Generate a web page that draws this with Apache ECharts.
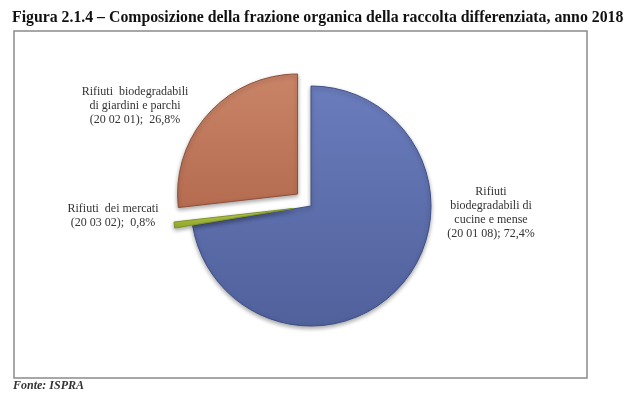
<!DOCTYPE html>
<html>
<head>
<meta charset="utf-8">
<script src="https://cdn.jsdelivr.net/npm/echarts@6/dist/echarts.min.js"></script>
<style>
  html, body { margin: 0; padding: 0; background: #fff; }
  #chart { width: 630px; height: 401px; }
</style>
</head>
<body>
<div id="chart"></div>
<script>
// dati
var categorie = [
  'Rifiuti biodegradabili di cucine e mense (20 01 08)',
  'Rifiuti dei mercati (20 03 02)',
  'Rifiuti biodegradabili di giardini e parchi (20 02 01)'
];
var valori = [72.4, 0.8, 26.8];
var etichette = [
  'Rifiuti\nbiodegradabili di\ncucine e mense\n(20 01 08); 72,4%',
  'Rifiuti  dei mercati\n(20 03 02);  0,8%',
  'Rifiuti  biodegradabili\ndi giardini e parchi\n(20 02 01);  26,8%'
];
// colori (chiaro in alto, scuro in basso) e bordo
var coloriAlto = ['#6a7cbc', '#c8da55', '#c98468'];
var coloriBasso = ['#50619c', '#98b02c', '#b56c50'];
var bordi = ['#3e4f86', '#7d9428', '#8f4f38'];
var staccati = [false, true, true];
var stacco = 18;
// centro delle etichette
var posEtichette = [[491, 213], [113, 216], [135, 106]];

// spostamento delle fette staccate (le etichette lo seguono)
var totale = valori.reduce(function (a, b) { return a + b; }, 0);
var cumul = 0;
var spost = valori.map(function (v, i) {
  var ang = (90 - (cumul + v / 2) / totale * 360) * Math.PI / 180;
  cumul += v;
  return staccati[i] ? [Math.cos(ang) * stacco, -Math.sin(ang) * stacco] : [0, 0];
});

var myChart = echarts.init(document.getElementById('chart'));

var dati = categorie.map(function (e, i) {
  return {
    name: e,
    value: valori[i],
    selected: staccati[i],
    itemStyle: {
      color: new echarts.graphic.LinearGradient(0, 0, 0, 1, [
        { offset: 0, color: coloriAlto[i] },
        { offset: 1, color: coloriBasso[i] }
      ]),
      borderColor: bordi[i],
      borderWidth: 1
    }
  };
});

var option = {
  title: {
    text: 'Figura 2.1.4 – Composizione della frazione organica della raccolta differenziata, anno 2018',
    left: 7,
    top: 5,
    textStyle: {
      fontFamily: 'Liberation Serif',
      fontSize: 15.8,
      fontWeight: 'bold',
      color: '#111'
    }
  },
  graphic: [
    {
      type: 'rect',
      shape: { x: 14, y: 31, width: 573, height: 347 },
      style: { fill: 'none', stroke: '#8a8a8a', lineWidth: 1.5 }
    },
    {
      type: 'text',
      left: 13,
      top: 380,
      style: {
        text: 'Fonte: ISPRA',
        font: 'italic bold 12px "Liberation Serif"',
        fill: '#333'
      }
    }
  ],
  series: [{
    type: 'pie',
    center: [311, 206],
    radius: 120,
    startAngle: 90,
    selectedMode: 'multiple',
    selectedOffset: stacco,
    animation: false,
    data: dati,
    itemStyle: {
      shadowBlur: 4,
      shadowOffsetY: 2,
      shadowColor: 'rgba(0,0,0,0.35)'
    },
    label: {
      show: true,
      position: 'outside',
      formatter: function (p) { return etichette[p.dataIndex]; },
      fontFamily: 'Liberation Serif',
      fontSize: 12,
      lineHeight: 14,
      color: '#333'
    },
    labelLine: { show: false },
    labelLayout: function (p) {
      var pos = posEtichette[p.dataIndex];
      var s = spost[p.dataIndex];
      var r = p.labelRect;
      var ax = p.align === 'right' ? r.x + r.width : (p.align === 'center' ? r.x + r.width / 2 : r.x);
      var ay = r.y + r.height / 2;
      return {
        align: 'center',
        verticalAlign: 'middle',
        dx: pos[0] - ax - s[0],
        dy: pos[1] - ay - s[1]
      };
    },
    emphasis: { disabled: true }
  }]
};

myChart.setOption(option);
</script>
</body>
</html>
